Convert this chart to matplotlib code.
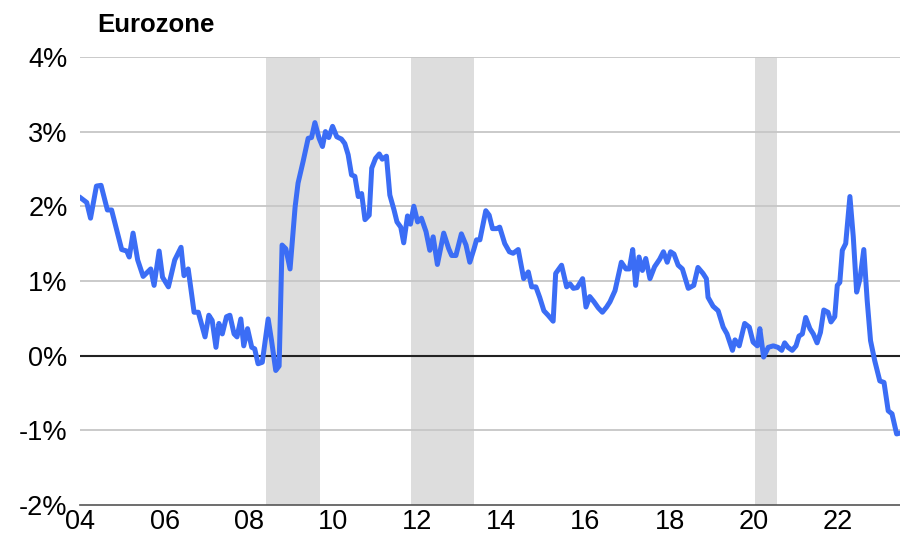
import matplotlib
matplotlib.use("Agg")
from matplotlib import pyplot as plt

plt.rcParams['font.family'] = ['Liberation Sans', 'DejaVu Sans']

# decimal year, value in %
years = [
    2004.01, 2004.15, 2004.24, 2004.38, 2004.49, 2004.64, 2004.74, 2004.98, 2005.10, 2005.16,
    2005.25, 2005.36, 2005.49, 2005.67, 2005.75, 2005.87, 2005.95, 2006.09, 2006.24, 2006.39,
    2006.46, 2006.56, 2006.70, 2006.80, 2006.96, 2007.05, 2007.13, 2007.22, 2007.29, 2007.37,
    2007.47, 2007.55, 2007.65, 2007.72, 2007.81, 2007.88, 2007.97, 2008.07, 2008.14, 2008.22,
    2008.32, 2008.46, 2008.54, 2008.64, 2008.72, 2008.79, 2008.88, 2008.98, 2009.10, 2009.17,
    2009.29, 2009.41, 2009.49, 2009.57, 2009.67, 2009.75, 2009.82, 2009.90, 2009.99, 2010.09,
    2010.20, 2010.28, 2010.36, 2010.44, 2010.52, 2010.60, 2010.68, 2010.76, 2010.86, 2010.92,
    2011.01, 2011.10, 2011.17, 2011.27, 2011.35, 2011.45, 2011.52, 2011.61, 2011.68, 2011.77,
    2011.84, 2011.92, 2012.01, 2012.10, 2012.21, 2012.30, 2012.38, 2012.48, 2012.63, 2012.75,
    2012.82, 2012.92, 2013.05, 2013.16, 2013.25, 2013.35, 2013.41, 2013.49, 2013.63, 2013.71,
    2013.79, 2013.89, 2013.96, 2014.08, 2014.19, 2014.28, 2014.40, 2014.53, 2014.64, 2014.72,
    2014.82, 2014.91, 2015.01, 2015.11, 2015.23, 2015.29, 2015.43, 2015.55, 2015.63, 2015.71,
    2015.80, 2015.93, 2016.01, 2016.10, 2016.20, 2016.30, 2016.40, 2016.50, 2016.58, 2016.70,
    2016.77, 2016.85, 2016.96, 2017.04, 2017.12, 2017.19, 2017.27, 2017.35, 2017.43, 2017.53,
    2017.64, 2017.76, 2017.85, 2017.94, 2018.02, 2018.10, 2018.20, 2018.30, 2018.44, 2018.57,
    2018.67, 2018.79, 2018.87, 2018.91, 2019.03, 2019.15, 2019.27, 2019.36, 2019.49, 2019.55,
    2019.65, 2019.78, 2019.89, 2019.98, 2020.08, 2020.14, 2020.23, 2020.34, 2020.46, 2020.57,
    2020.66, 2020.73, 2020.81, 2020.91, 2021.00, 2021.07, 2021.15, 2021.23, 2021.33, 2021.41,
    2021.50, 2021.58, 2021.66, 2021.76, 2021.83, 2021.92, 2021.98, 2022.04, 2022.10, 2022.18,
    2022.28, 2022.36, 2022.44, 2022.52, 2022.61, 2022.69, 2022.77, 2022.87, 2022.99, 2023.09,
    2023.19, 2023.28, 2023.39, 2023.46,
]
values = [
    2.11, 2.05, 1.84, 2.27, 2.28, 1.95, 1.95, 1.42, 1.40, 1.32,
    1.64, 1.28, 1.06, 1.16, 0.94, 1.40, 1.05, 0.92, 1.28, 1.45,
    1.07, 1.16, 0.58, 0.58, 0.25, 0.54, 0.47, 0.11, 0.43, 0.29,
    0.52, 0.54, 0.29, 0.25, 0.49, 0.13, 0.36, 0.11, 0.09, -0.11,
    -0.09, 0.49, 0.20, -0.20, -0.14, 1.48, 1.43, 1.16, 1.99, 2.31,
    2.60, 2.91, 2.92, 3.12, 2.91, 2.80, 3.00, 2.92, 3.07, 2.93,
    2.90, 2.84, 2.69, 2.42, 2.40, 2.13, 2.17, 1.82, 1.88, 2.51,
    2.64, 2.70, 2.63, 2.67, 2.15, 1.95, 1.79, 1.72, 1.51, 1.87,
    1.76, 2.00, 1.79, 1.84, 1.66, 1.41, 1.59, 1.22, 1.64, 1.43,
    1.34, 1.34, 1.63, 1.48, 1.25, 1.43, 1.55, 1.55, 1.94, 1.88,
    1.70, 1.70, 1.72, 1.50, 1.39, 1.37, 1.42, 1.03, 1.12, 0.92,
    0.92, 0.78, 0.60, 0.54, 0.46, 1.10, 1.21, 0.92, 0.96, 0.90,
    0.91, 1.03, 0.65, 0.79, 0.72, 0.64, 0.58, 0.65, 0.72, 0.87,
    1.05, 1.25, 1.16, 1.16, 1.42, 0.94, 1.32, 1.14, 1.30, 1.03,
    1.19, 1.29, 1.39, 1.25, 1.39, 1.36, 1.21, 1.16, 0.90, 0.94,
    1.18, 1.10, 1.03, 0.78, 0.66, 0.60, 0.38, 0.29, 0.07, 0.21,
    0.13, 0.43, 0.38, 0.18, 0.13, 0.36, -0.02, 0.11, 0.13, 0.11,
    0.07, 0.17, 0.11, 0.07, 0.13, 0.26, 0.29, 0.51, 0.36, 0.29,
    0.17, 0.31, 0.61, 0.58, 0.45, 0.52, 0.94, 0.98, 1.41, 1.50,
    2.13, 1.59, 0.85, 1.03, 1.42, 0.74, 0.20, -0.07, -0.34, -0.36,
    -0.74, -0.78, -1.05, -1.04,
]

# recession periods (start, end)
recessions = [(2008.42, 2009.68), (2011.86, 2013.35), (2020.02, 2020.54)]

xticks = [2004, 2006, 2008, 2010, 2012, 2014, 2016, 2018, 2020, 2022]
xticklabels = ['04', '06', '08', '10', '12', '14', '16', '18', '20', '22']
yticks = [-2, -1, 0, 1, 2, 3, 4]
yticklabels = ['-2%', '-1%', '0%', '1%', '2%', '3%', '4%']

fig = plt.figure(figsize=(9, 5.42), dpi=100)
ax = fig.add_axes([0.0889, 0.0685, 0.9111, 0.8265])

for start, end in recessions:
    ax.axvspan(start, end, color='#dddddd', lw=0, zorder=0)

for y in yticks[1:]:
    if y == 0:
        continue
    ax.axhline(y, color='#c6c6c6', lw=1.3, zorder=1)
ax.axhline(0, color='#222222', lw=1.5, zorder=2)

ax.plot(years, values, color='#3b6df5', lw=3.6, solid_joinstyle='round', zorder=3)

ax.set_xlim(2003.99, 2023.47)
ax.set_ylim(-2, 4)
ax.set_xticks(xticks)
ax.set_xticklabels(xticklabels)
ax.set_yticks(yticks)
ax.set_yticklabels(yticklabels)
ax.tick_params(axis='both', length=0, labelsize=19.5)
ax.tick_params(axis='y', pad=9)
ax.tick_params(axis='x', pad=3)

for side in ['top', 'right', 'left']:
    ax.spines[side].set_visible(False)
ax.spines['bottom'].set_color('#555555')
ax.spines['bottom'].set_linewidth(1.2)

fig.text(0.108, 0.941, 'Eurozone', fontsize=18.5, fontweight='bold', va='baseline', ha='left')

plt.savefig('out.png', dpi=100)
